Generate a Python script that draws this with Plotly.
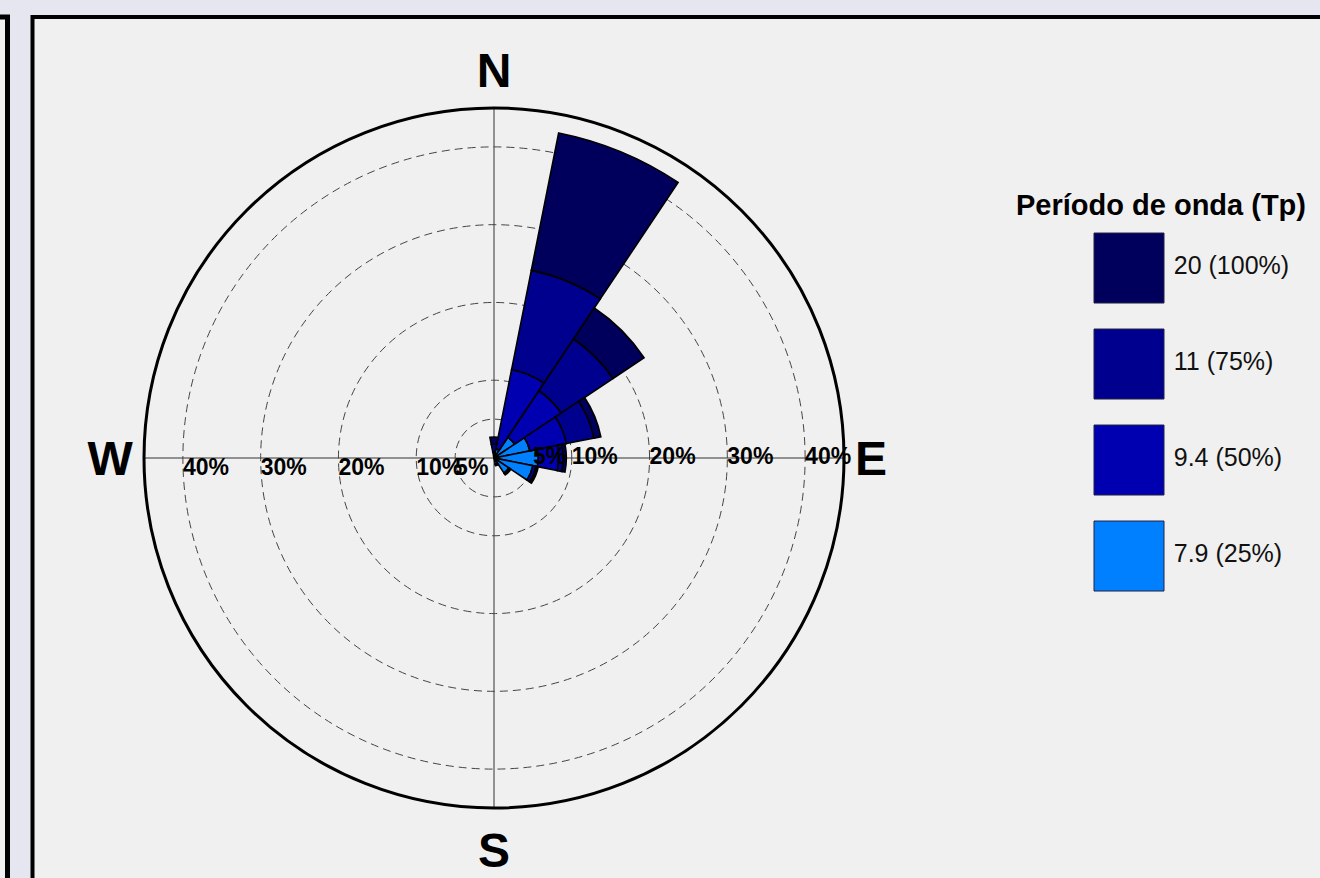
import plotly.graph_objects as go

# ---------------- data ----------------
directions = ["N", "NNE", "NE", "ENE", "E", "ESE", "SE", "SSE",
              "S", "SSW", "SW", "WSW", "W", "WNW", "NW", "NNW"]
theta_deg = [0, 22.5, 45, 67.5, 90, 112.5, 135, 157.5,
             180, 202.5, 225, 247.5, 270, 292.5, 315, 337.5]

period_bins = ["7.9 (25%)", "9.4 (50%)", "11 (75%)", "20 (100%)"]

# frequency (%) of each period class per direction (stacked from centre outwards)
freq_7_9 = [0.2, 1.2, 3.2, 4.7, 5.7, 5.1, 2.3, 0.8, 0, 0, 0, 0, 0, 0, 0, 0]
freq_9_4 = [0.6, 10.4, 7.2, 4.8, 2.6, 0.4, 0.1, 0.1, 0, 0, 0, 0, 0, 0, 0, 0]
freq_11 = [1.0, 13.0, 8.0, 3.6, 0.6, 0.2, 0.1, 0.1, 0, 0, 0, 0, 0, 0, 0, 0]
freq_20 = [0.9, 18.0, 4.8, 0.9, 0.4, 0.1, 0.1, 0.0, 0, 0, 0, 0, 0, 0, 0, 0]

bin_colors = ["#0080FF", "#0000B0", "#00008E", "#00005C"]

radial_ticks = [5, 10, 20, 30, 40]
radial_labels = ["5%", "10%", "20%", "30%", "40%"]

compass_theta = [0, 90, 180, 270]
compass_text = ["N", "E", "S", "W"]

legend_title = "Período de onda (Tp)"

# ---------------- figure ----------------
W, H = 1320, 878
fig = go.Figure()

series = [freq_7_9, freq_9_4, freq_11, freq_20]
for name, vals, col in zip(period_bins, series, bin_colors):
    fig.add_trace(go.Barpolar(
        r=vals, theta=theta_deg, width=22.5, name=name,
        marker=dict(color=col, line=dict(color="black", width=1.6)),
        showlegend=False, subplot="polar",
    ))

font_family = "Liberation Sans, Arial, sans-serif"

# radial tick labels on both sides of the horizontal axis
fig.add_trace(go.Scatterpolar(
    r=radial_ticks, theta=[90] * len(radial_ticks), mode="text",
    text=radial_labels, textposition="middle right",
    textfont=dict(family=font_family, size=23, color="black", weight="bold"),
    showlegend=False, hoverinfo="skip", subplot="polar",
))
fig.add_trace(go.Scatterpolar(
    r=radial_ticks, theta=[270] * len(radial_ticks), mode="text",
    text=radial_labels, textposition="bottom right",
    textfont=dict(family=font_family, size=23, color="black", weight="bold"),
    showlegend=False, hoverinfo="skip", subplot="polar",
))

# custom legend (large swatches) on a hidden cartesian axis
legend_order = list(range(len(period_bins)))
fig.add_trace(go.Scatter(
    x=[0] * len(period_bins), y=legend_order,
    mode="markers+text",
    marker=dict(symbol="square", size=70,
                color=bin_colors[::-1], line=dict(color="#222244", width=1)),
    text=period_bins[::-1], textposition="middle right",
    textfont=dict(family=font_family, size=25, color="#111111"),
    showlegend=False, hoverinfo="skip", xaxis="x", yaxis="y",
))

R = 350
cx, cy = 494, 458
fig.update_layout(
    width=W, height=H,
    margin=dict(l=0, r=0, t=0, b=0),
    paper_bgcolor="#E6E6F0",
    plot_bgcolor="rgba(0,0,0,0)",
    polar=dict(
        domain=dict(x=[(cx - R) / W, (cx + R) / W],
                    y=[(H - cy - R) / H, (H - cy + R) / H]),
        bgcolor="rgba(0,0,0,0)",
        barmode="stack",
        radialaxis=dict(range=[0, 45], tickvals=radial_ticks,
                        showticklabels=False, ticks="", showline=False,
                        gridcolor="#444444", gridwidth=1.2, griddash="8px,5px"),
        angularaxis=dict(direction="clockwise", rotation=90,
                         tickvals=compass_theta, ticktext=compass_text,
                         tickfont=dict(family=font_family, size=48,
                                       color="black", weight="bold"),
                         ticks="",
                         showline=True, linecolor="black", linewidth=3,
                         gridcolor="#333333", gridwidth=1.2),
    ),
    xaxis=dict(domain=[1056 / W, 1.0], range=[-0.2765, 0.7235],
               visible=False, fixedrange=True),
    yaxis=dict(domain=[0, 1], range=[6.354, -2.792],
               visible=False, fixedrange=True),
    annotations=[dict(
        text=legend_title, xref="paper", yref="paper",
        x=1014 / W, y=1 - 205 / H, xanchor="left", yanchor="middle",
        showarrow=False,
        font=dict(family=font_family, size=29, color="black", weight="bold"),
    )],
    shapes=[
        dict(type="rect", xref="paper", yref="paper", layer="below",
             x0=-30 / W, x1=7.5 / W, y0=-0.1, y1=1 - 17 / H,
             fillcolor="#F0F0F0", line=dict(color="black", width=5)),
        dict(type="rect", xref="paper", yref="paper", layer="below",
             x0=32.5 / W, x1=1.05, y0=-0.1, y1=1 - 17 / H,
             fillcolor="#F0F0F0", line=dict(color="black", width=4)),
    ],
)

fig.write_html("out.html")
